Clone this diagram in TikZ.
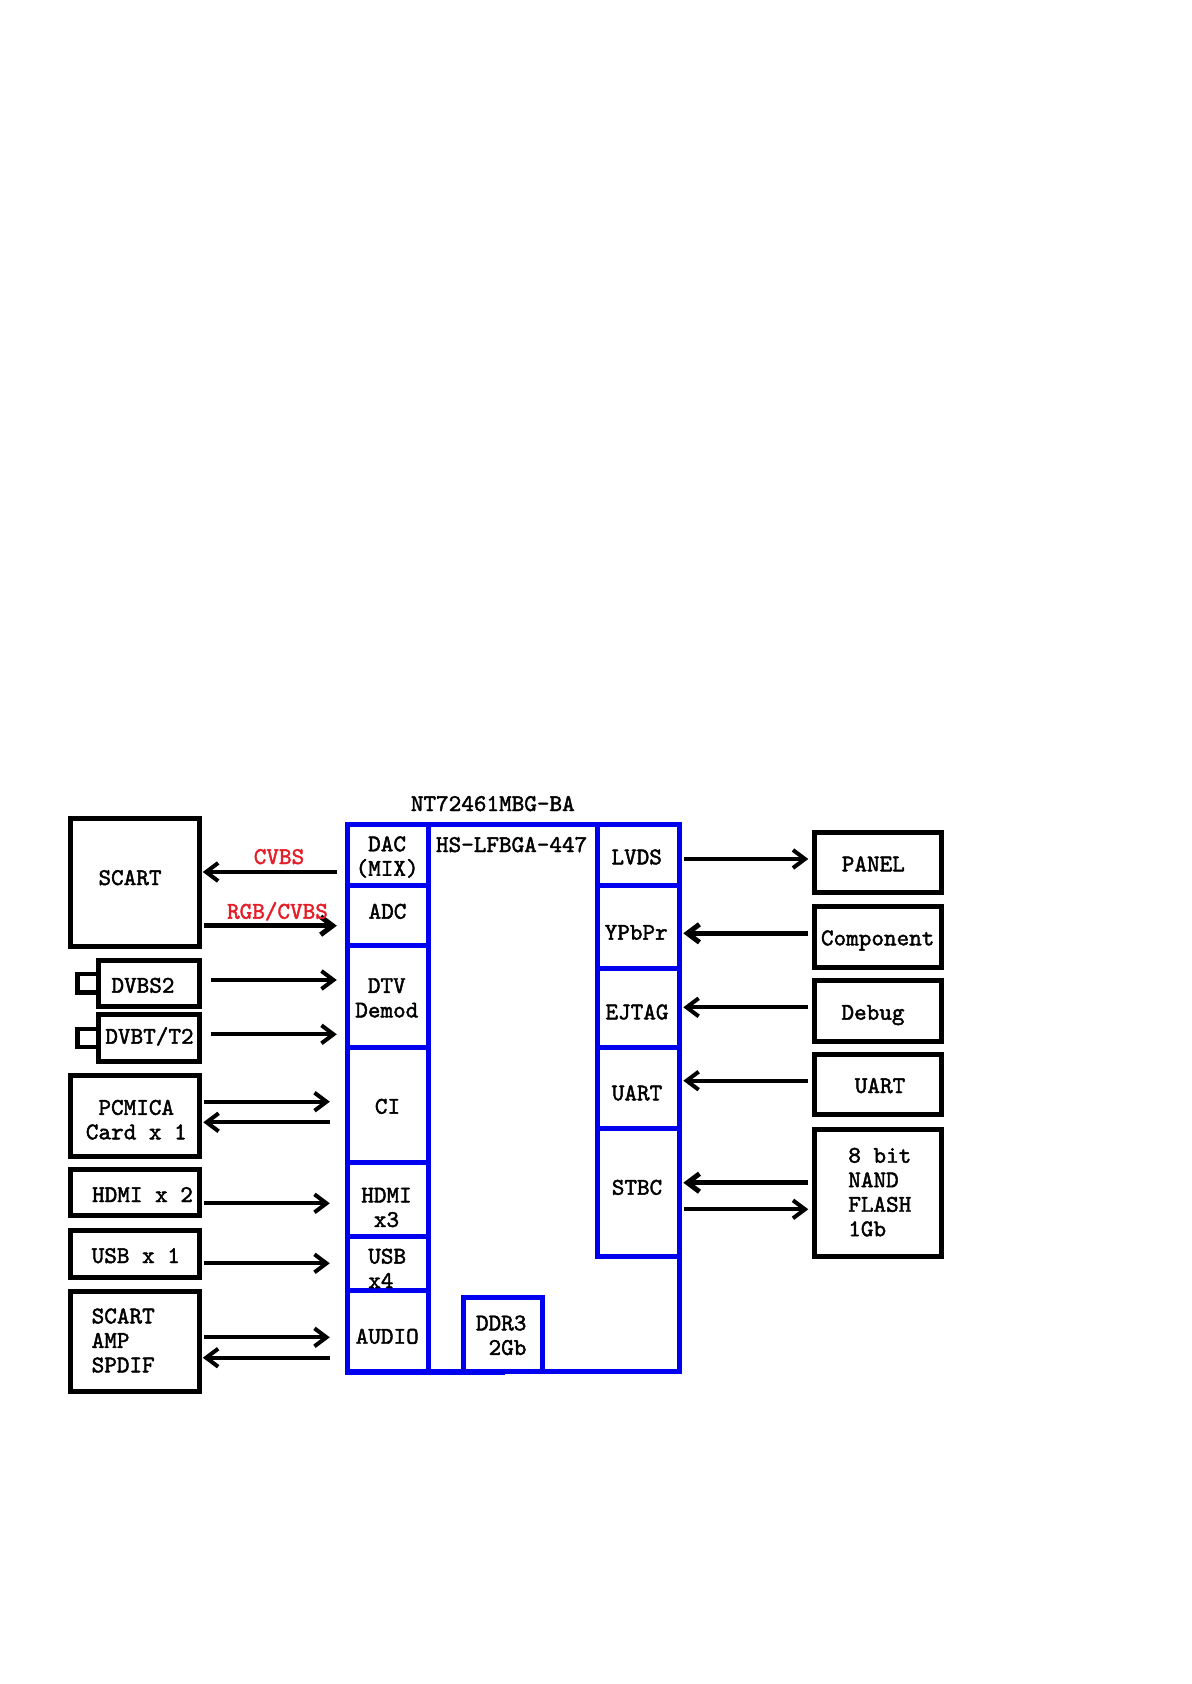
\documentclass[tikz,border=0pt]{standalone}
\usepackage{fontspec}
\newfontfamily\diagfont{lmmono10-regular.otf}[FakeBold=1.8]
\usetikzlibrary{arrows.meta,calc}
\definecolor{chipblue}{RGB}{0,0,240}
\definecolor{sigred}{RGB}{228,30,40}
\begin{document}
\begin{tikzpicture}[x=0.5pt,y=-0.5pt,
  txt/.style={font=\diagfont\fontsize{12}{12.25}\selectfont, inner sep=0pt, outer sep=0pt},
  box/.style={draw=black, line width=2.5pt, rectangle, inner sep=0pt},
  plug/.style={draw=black, line width=2.2pt, rectangle, inner sep=0pt},
  cell/.style={draw=chipblue, line width=2.5pt, rectangle, inner sep=0pt},
  arr/.style={line width=2pt, -{Straight Barb[length=6pt,width=9pt]}},
  arrb/.style={arr, line width=2.5pt}]
\useasboundingbox (0,0) rectangle (1191,1684);

% ---------- left blocks ----------
\node[plug, minimum width=10.25pt, minimum height=9.25pt] (plugs) at (87.75,983.25) {};
\node[plug, minimum width=10.25pt, minimum height=9pt] (plugt) at (87.75,1038) {};
\node[box, minimum width=64.3pt, minimum height=63.85pt] (scart) at (135,882.15) {};
\node[box, minimum width=50.65pt, minimum height=23.15pt] (dvbs) at (148.65,983.15) {};
\node[box, minimum width=50.65pt, minimum height=23.25pt] (dvbt) at (148.65,1037.75) {};
\node[box, minimum width=64.3pt, minimum height=40.15pt] (pcmcia) at (135,1115.85) {};
\node[box, minimum width=64.3pt, minimum height=22.8pt] (hdmitwo) at (135,1192.5) {};
\node[box, minimum width=64.3pt, minimum height=23.15pt] (usbone) at (135,1253.85) {};
\node[box, minimum width=64.3pt, minimum height=50pt] (scartamp) at (135,1341.7) {};

\node[txt, anchor=base] (tscart) at (130,885) {SCART};
\node[txt, anchor=base] (tdvbs) at (143,992.7) {DVBS2};
\node[txt, anchor=base] (tdvbt) at (149.5,1043.7) {DVBT/T2};
\node[txt, align=center] (tpcmcia) at (136.3,1119.7) {PCMICA\\Card x 1};
\node[txt, anchor=base] (thdmitwo) at (142.5,1202) {HDMI x 2};
\node[txt, anchor=base] (tusbone) at (135.8,1263) {USB x 1};
\node[txt, align=left, anchor=west] (tscartamp) at (91.7,1340.5) {SCART\\AMP\\SPDIF};

% ---------- chip ----------
\node[cell, minimum width=165.85pt, minimum height=273.15pt] (chip) at (513.15,1097.85) {};
\fill[chipblue] (345,1368.5) rectangle (505,1374.5);
\node[cell, minimum width=40.5pt, minimum height=30.3pt] (dac) at (387.8,855) {};
\node[cell, minimum width=40.5pt, minimum height=30.2pt] (adc) at (387.8,915.5) {};
\node[cell, minimum width=40.5pt, minimum height=50.65pt] (dtv) at (387.8,996.35) {};
\node[cell, minimum width=40.5pt, minimum height=57.5pt] (ci) at (387.8,1104.5) {};
\node[cell, minimum width=40.5pt, minimum height=37pt] (hdmi) at (387.8,1199) {};
\node[cell, minimum width=40.5pt, minimum height=27.15pt] (usb) at (387.8,1263.15) {};
\node[cell, minimum width=40.5pt, minimum height=40.35pt] (audio) at (387.8,1330.65) {};
\node[cell, minimum width=40.65pt, minimum height=30.3pt] (lvds) at (638.35,855) {};
\node[cell, minimum width=40.65pt, minimum height=41.35pt] (ypbpr) at (638.35,926.65) {};
\node[cell, minimum width=40.65pt, minimum height=39.85pt] (ejtag) at (638.35,1007.85) {};
\node[cell, minimum width=40.65pt, minimum height=40.5pt] (uartc) at (638.35,1088.2) {};
\node[cell, minimum width=40.65pt, minimum height=63.8pt] (stbc) at (638.35,1192.5) {};
\node[cell, minimum width=39.85pt, minimum height=36.85pt] (ddr) at (502.85,1334.15) {};

\node[txt, anchor=base] (tchip) at (492.8,811) {NT72461MBG-BA};
\node[txt, anchor=base west] (tpkg) at (436,852) {HS-LFBGA-447};
\node[txt, align=center] (tdac) at (387.1,857) {DAC\\(MIX)};
\node[txt, anchor=base] (tadc) at (387.5,918.7) {ADC};
\node[txt, align=center] (tdtv) at (386.8,997.9) {DTV\\Demod};
\node[txt, anchor=base] (tci) at (387.5,1113.7) {CI};
\node[txt, align=center] (thdmi) at (386.5,1207.5) {HDMI\\x3};
\node[txt, align=left, anchor=west] (tusb) at (368.3,1268.35) {USB\\x4};
\node[txt, anchor=base] (taudio) at (387.2,1343.7) {AUDIO};
\node[txt, align=left, anchor=west] (tddr) at (476,1335.3) {DDR3\\~2Gb};
\node[txt, anchor=base] (tlvds) at (636.7,864.3) {LVDS};
\node[txt, anchor=base] (typbpr) at (636.2,939.7) {YPbPr};
\node[txt, anchor=base] (tejtag) at (637,1019.3) {EJTAG};
\node[txt, anchor=base] (tuartc) at (637,1100.3) {UART};
\node[txt, anchor=base] (tstbc) at (637,1194.7) {STBC};

% ---------- right blocks ----------
\node[box, minimum width=63.5pt, minimum height=30pt] (panel) at (877.5,862) {};
\node[box, minimum width=63.5pt, minimum height=30.15pt] (comp) at (877.5,936.85) {};
\node[box, minimum width=63.5pt, minimum height=30.15pt] (debug) at (877.5,1010.85) {};
\node[box, minimum width=63.5pt, minimum height=29.8pt] (uart) at (877.5,1084.5) {};
\node[box, minimum width=63.5pt, minimum height=63.85pt] (nand) at (877.5,1192.85) {};

\node[txt, anchor=base] (tpanel) at (873.3,871.3) {PANEL};
\node[txt, anchor=base] (tcomp) at (877.7,945.3) {Component};
\node[txt, anchor=base] (tdebug) at (873,1019.7) {Debug};
\node[txt, anchor=base] (tuart) at (880,1093) {UART};
\node[txt, align=left, anchor=west] (tnand) at (848.3,1192.15) {8 bit\\NAND\\FLASH\\1Gb};

% ---------- connectors, left ----------
\draw[arr] ($(dac.west |- 0,872)+(-8,0)$) -- ($(scart.east |- 0,872)+(1,0)$);
\node[txt, anchor=base, text=sigred] (tcvbs) at (279,864) {CVBS};
\draw[arrb] ($(scart.east |- 0,925.7)+(2,0)$) -- ($(adc.west |- 0,925.7)+(-8,0)$);
\node[txt, anchor=base, text=sigred] (trgb) at (277.5,918.7) {RGB/CVBS};
\draw[arr] ($(dvbs.east |- 0,980)+(9,0)$) -- ($(dtv.west |- 0,980)+(-8,0)$);
\draw[arr] ($(dvbt.east |- 0,1034.3)+(9,0)$) -- ($(dtv.west |- 0,1034.3)+(-8,0)$);
\draw[arr] ($(pcmcia.east |- 0,1101.7)+(2.5,0)$) -- ($(ci.west |- 0,1101.7)+(-15,0)$);
\draw[arr] ($(ci.west |- 0,1122.3)+(-15,0)$) -- ($(pcmcia.east |- 0,1122.3)+(1.5,0)$);
\draw[arr] ($(hdmitwo.east |- 0,1203.3)+(2,0)$) -- ($(hdmi.west |- 0,1203.3)+(-15,0)$);
\draw[arr] ($(usbone.east |- 0,1263.3)+(2,0)$) -- ($(usb.west |- 0,1263.3)+(-15,0)$);
\draw[arr] ($(scartamp.east |- 0,1337.3)+(2,0)$) -- ($(audio.west |- 0,1337.3)+(-15,0)$);
\draw[arr] ($(audio.west |- 0,1357.7)+(-15,0)$) -- ($(scartamp.east |- 0,1357.7)+(1,0)$);

% ---------- connectors, right ----------
\draw[arr] ($(lvds.east |- 0,859)+(2.5,0)$) -- ($(panel.west |- 0,859)+(-3.2,0)$);
\draw[arrb] ($(comp.west |- 0,933.3)+(-3.2,0)$) -- ($(ypbpr.east |- 0,933.3)+(1.8,0)$);
\draw[arr] ($(debug.west |- 0,1007.3)+(-3.2,0)$) -- ($(ejtag.east |- 0,1007.3)+(1.8,0)$);
\draw[arr] ($(uart.west |- 0,1080.7)+(-3.2,0)$) -- ($(uartc.east |- 0,1080.7)+(1.8,0)$);
\draw[arrb] ($(nand.west |- 0,1182.7)+(-3.2,0)$) -- ($(stbc.east |- 0,1182.7)+(1.8,0)$);
\draw[arr] ($(stbc.east |- 0,1209.3)+(2.5,0)$) -- ($(nand.west |- 0,1209.3)+(-3.2,0)$);
\end{tikzpicture}
\end{document}
